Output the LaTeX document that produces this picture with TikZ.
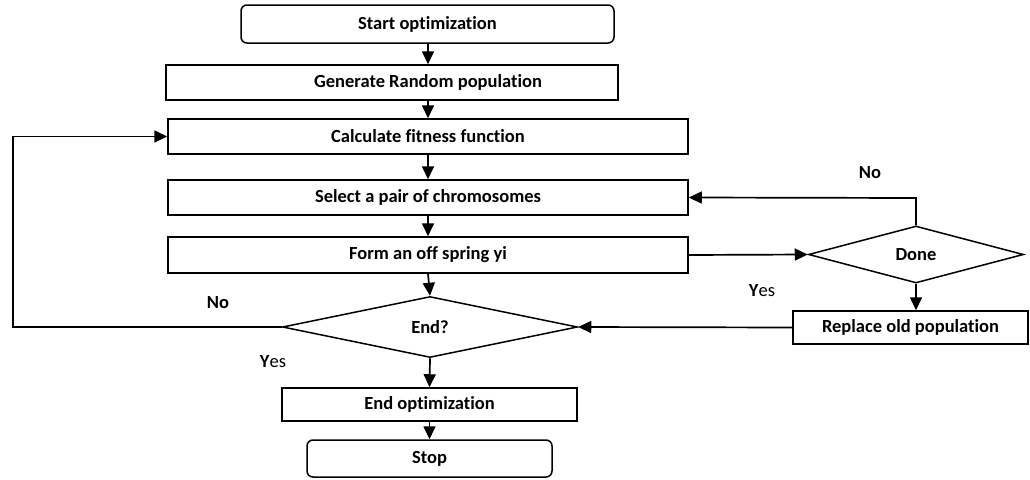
\documentclass[tikz,border=0pt]{standalone}
\usepackage{fontspec}
\setmainfont{Carlito}[Ligatures=NoCommon]
\usetikzlibrary{shapes.geometric,arrows.meta}
\begin{document}
\begin{tikzpicture}[x=1pt,y=-1pt,
  every node/.style={font=\fontsize{18.5}{20}\selectfont\bfseries},
  boxst/.style={draw,line width=1.5pt,rectangle,inner sep=0pt},
  roundst/.style={boxst,rounded corners=6pt},
  decst/.style={draw,line width=1.5pt,diamond,inner sep=0pt},
  arr/.style={line width=1.7pt,-{Triangle[length=13pt,width=12pt]}},
  lbl/.style={inner sep=0pt}]
\useasboundingbox (0,0) rectangle (1030,479);
\node[roundst,minimum width=373pt,minimum height=38pt] (start) at (427.5,24) {Start optimization};
\node[boxst,minimum width=452pt,minimum height=35pt] (gen) at (392,82.5) {};
\node[lbl] (gent) at (428,82.5) {Generate Random population};
\node[boxst,minimum width=520pt,minimum height=35pt] (calc) at (428,136.5) {Calculate fitness function};
\node[boxst,minimum width=520pt,minimum height=35pt] (sel) at (428,197.5) {Select a pair of chromosomes};
\node[boxst,minimum width=520pt,minimum height=36pt] (form) at (428,255) {Form an off spring yi};
\node[decst,minimum width=295pt,minimum height=61pt] (endq) at (430,327) {End?};
\node[decst,minimum width=215pt,minimum height=57pt] (done) at (916,254.5) {Done};
\node[boxst,minimum width=235pt,minimum height=33pt] (repl) at (910.5,327.5) {Replace old population};
\node[boxst,minimum width=295pt,minimum height=33pt] (endopt) at (429.5,404.5) {End optimization};
\node[roundst,minimum width=245pt,minimum height=37pt] (stop) at (429.5,458.5) {Stop};
\node[lbl] (no1) at (870,173) {No};
\node[lbl] (yes1) at (762,291) {Y\mdseries es};
\node[lbl] (no2) at (218,303) {No};
\node[lbl] (yes2) at (273,362) {Y\mdseries es};
\coordinate (lc1) at (13,327);
\coordinate (lc2) at (13,136.5);
\coordinate (dc) at (916,198);
\draw[arr] (start.south -| gent) -- (gent |- gen.north);
\draw[arr] (calc.north |- gen.south) -- (calc.north);
\draw[arr] (calc.south) -- (sel.north);
\draw[arr] (sel.south) -- (form.north);
\draw[arr] (form.south) -- (endq.north);
\draw[arr] (endq.south) -- (endopt.north);
\draw[arr] (endopt.south) -- (stop.north);
\draw[arr] (endq.west) -- (lc1) -- (lc2) -- (calc.west);
\draw[arr] (form.east) -- (done.west);
\draw[arr] (done.north) -- (dc) -- (sel.east);
\draw[arr] (done.south) -- (done.south |- repl.north);
\draw[arr] (repl.west) -- (endq.east);
\end{tikzpicture}
\end{document}
